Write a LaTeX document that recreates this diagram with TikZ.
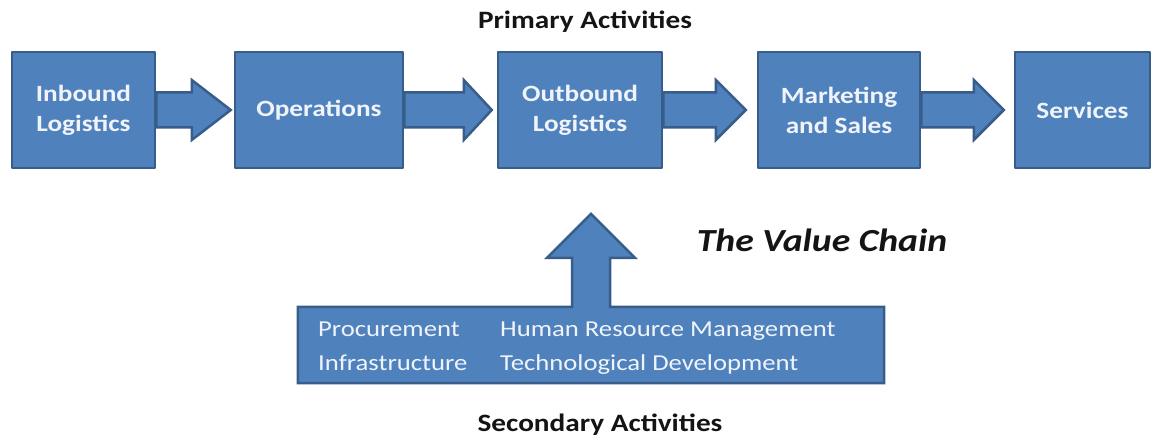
\documentclass[tikz,border=0pt]{standalone}
\usepackage{fontspec}
\setmainfont{Carlito}[FakeStretch=1.17]
\usetikzlibrary{calc}
\definecolor{boxfill}{RGB}{79,129,189}
\definecolor{boxline}{RGB}{56,93,138}
\definecolor{boxtext}{RGB}{240,244,250}
\definecolor{titletext}{RGB}{20,20,20}
\newcommand\harrow[4]{%
  \draw[blockarrow] let \p1=(#1.east), \p2=(#2.west) in
    (\x1,\y1+17.5pt) -- (\x2-#3pt-#4pt,\y1+17.5pt) -- (\x2-#3pt-#4pt,\y1+30pt)
    -- (\x2-#3pt,\y1) -- (\x2-#3pt-#4pt,\y1-30pt) -- (\x2-#3pt-#4pt,\y1-17.5pt)
    -- (\x1,\y1-17.5pt) -- cycle;}
\begin{document}
\begin{tikzpicture}[x=1pt,y=1pt,
  box/.style={draw=boxline, fill=boxfill, line width=2.5pt, line join=round,
    minimum height=116pt, inner sep=0pt, align=center, text=boxtext,
    font=\fontsize{23.3}{30}\selectfont\bfseries},
  blockarrow/.style={draw=boxline, fill=boxfill, line width=2.5pt, line join=miter},
  title/.style={text=titletext, font=\fontsize{25}{30}\selectfont\bfseries, inner sep=0pt},
  sectext/.style={text=boxtext, font=\fontsize{22.8}{27}\selectfont, inner sep=0pt, anchor=base west}]
\fill[white] (0,0) rectangle (1155,441);
\useasboundingbox (0,0) rectangle (1155,441);

\node[title] (prim) at (585,419) {Primary Activities};
\node[title] (secon) at (600,16) {Secondary Activities};
\node[text=titletext, font=\fontsize{32.2}{38}\selectfont\bfseries\itshape, inner sep=0pt] (vc) at (822,201) {The Value Chain};

% arrows first, boxes on top
\node[box, draw=none, fill=none, minimum width=143pt] (b1) at (83.5,331) {};
\node[box, draw=none, fill=none, minimum width=168pt] (b2) at (319,331) {};
\node[box, draw=none, fill=none, minimum width=164pt] (b3) at (580,331) {};
\node[box, draw=none, fill=none, minimum width=162pt] (b4) at (839,331) {};
\node[box, draw=none, fill=none, minimum width=135pt] (b5) at (1082.5,331) {};
\harrow{b1}{b2}{3}{39}
\harrow{b2}{b3}{5}{28}
\harrow{b3}{b4}{11}{30}
\harrow{b4}{b5}{10}{30}
\node[box, minimum width=143pt] (n1) at (b1) {Inbound\\Logistics};
\node[box, minimum width=168pt] (n2) at (b2) {Operations};
\node[box, minimum width=164pt] (n3) at (b3) {Outbound\\Logistics};
\node[box, minimum width=162pt] (n4) at (b4) {Marketing\\and Sales};
\node[box, minimum width=135pt] (n5) at (b5) {Services};

% secondary activities block with up arrow
\node[minimum width=586pt, minimum height=76pt, inner sep=0pt] (sec) at (591,96) {};
\draw[blockarrow] let \p1=(sec.north west), \p2=(sec.south east), \p3=(sec.north) in
  (\x1,\y1) -- (\x3-19pt,\y1) -- (\x3-19pt,\y1+49pt) -- (\x3-44pt,\y1+49pt)
  -- (\x3,\y1+93pt) -- (\x3+44pt,\y1+49pt) -- (\x3+19pt,\y1+49pt) -- (\x3+19pt,\y1)
  -- (\x2,\y1) -- (\x2,\y2) -- (\x1,\y2) -- cycle;
\node[sectext] (s1) at (318,104) {Procurement};
\node[sectext] (s2) at (318,70) {Infrastructure};
\node[sectext] (s3) at (500,104) {Human Resource Management};
\node[sectext] (s4) at (500,70) {Technological Development};
\end{tikzpicture}
\end{document}
